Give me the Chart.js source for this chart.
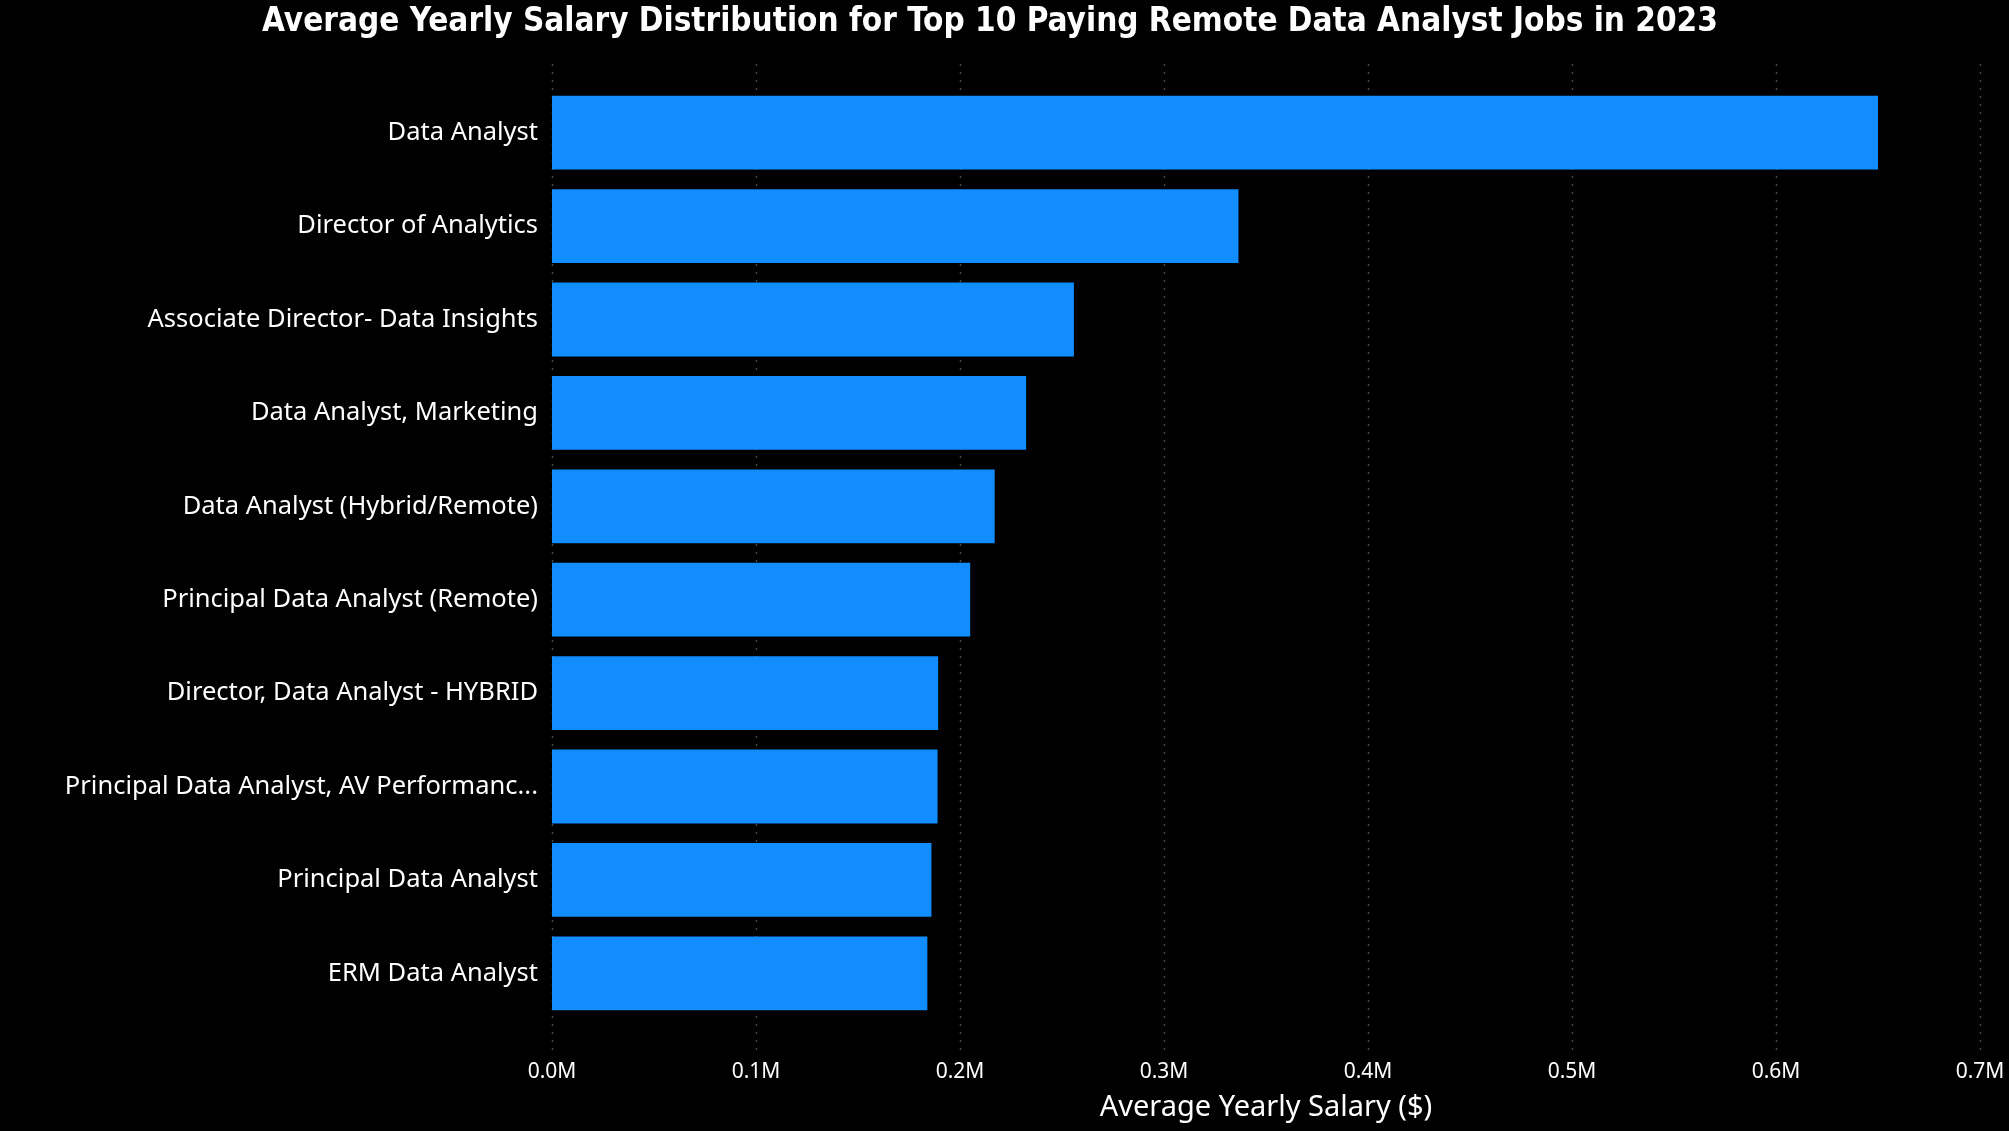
<!DOCTYPE html>
<html>
<head>
<meta charset="utf-8">
<script src="https://cdn.jsdelivr.net/npm/chart.js@4.4.1/dist/chart.umd.min.js"></script>
<style>
  html, body { margin: 0; padding: 0; background: #000; }
  #wrap { width: 2009px; height: 1131px; }
</style>
</head>
<body>
<div id="wrap"><canvas id="c" width="2009" height="1131"></canvas></div>
<script>
const categories = [
  "Data Analyst",
  "Director of Analytics",
  "Associate Director- Data Insights",
  "Data Analyst, Marketing",
  "Data Analyst (Hybrid/Remote)",
  "Principal Data Analyst (Remote)",
  "Director, Data Analyst - HYBRID",
  "Principal Data Analyst, AV Performanc...",
  "Principal Data Analyst",
  "ERM Data Analyst"
];
const salaries = [650000, 336500, 255830, 232423, 217000, 205000, 189309, 189000, 186000, 184000];
const xTickMax = 700000;
const xTickStep = 100000;
const titleText = "Average Yearly Salary Distribution for Top 10 Paying Remote Data Analyst Jobs in 2023";
const xTitleText = "Average Yearly Salary ($)";

const dottedGrid = {
  id: 'dottedGrid',
  beforeDatasetsDraw(chart) {
    const x = chart.scales.x;
    const area = chart.chartArea;
    const ctx = chart.ctx;
    ctx.save();
    ctx.strokeStyle = 'rgba(130,130,130,0.55)';
    ctx.lineWidth = 1.5;
    ctx.setLineDash([2, 6]);
    x.ticks.forEach(t => {
      const px = Math.round(x.getPixelForValue(t.value)) + 0.5;
      ctx.beginPath();
      ctx.moveTo(px, area.top - 22);
      ctx.lineTo(px, area.bottom + 30);
      ctx.stroke();
    });
    ctx.restore();
  }
};

new Chart(document.getElementById('c'), {
  type: 'bar',
  data: {
    labels: categories,
    datasets: [{
      data: salaries,
      backgroundColor: '#118DFF',
      borderWidth: 0,
      categoryPercentage: 1.0,
      barPercentage: 0.79
    }]
  },
  plugins: [dottedGrid],
  options: {
    indexAxis: 'y',
    responsive: false,
    animation: false,
    devicePixelRatio: 1,
    layout: { padding: { left: 0, right: 29, top: 0, bottom: 6 } },
    plugins: {
      legend: { display: false },
      tooltip: { enabled: false },
      title: {
        display: true,
        text: titleText,
        color: '#FFFFFF',
        font: { family: "'Liberation Sans Narrow', 'DejaVu Sans Condensed', sans-serif", size: 33, weight: 'bold', lineHeight: 1.0 },
        padding: { top: 6, bottom: 47 }
      }
    },
    scales: {
      x: {
        type: 'linear',
        min: 0,
        max: xTickMax,
        grid: { display: false, drawTicks: false },
        border: { display: false },
        ticks: {
          stepSize: xTickStep,
          color: '#FFFFFF',
          padding: 39,
          font: { family: "'Noto Sans', sans-serif", size: 21 },
          callback: v => (v / 1000000).toFixed(1) + 'M'
        },
        title: {
          display: true,
          text: xTitleText,
          color: '#FFFFFF',
          font: { family: "'Noto Sans', sans-serif", size: 29 },
          padding: { top: 8, bottom: 0 }
        },
        afterFit(scale) {
          scale.height = 105;
          scale.paddingLeft = 0;
          scale.paddingRight = 0;
          scale.paddingTop = 0;
          scale.paddingBottom = 0;
        }
      },
      y: {
        type: 'category',
        offset: true,
        grid: { display: false, drawTicks: false },
        border: { display: false },
        ticks: {
          color: '#FFFFFF',
          padding: 14,
          font: { family: "'Noto Sans', sans-serif", size: 25.5 }
        },
        afterFit(scale) {
          scale.width = 552;
          scale.paddingTop = 0;
          scale.paddingBottom = 0;
        }
      }
    }
  }
});
</script>
</body>
</html>
